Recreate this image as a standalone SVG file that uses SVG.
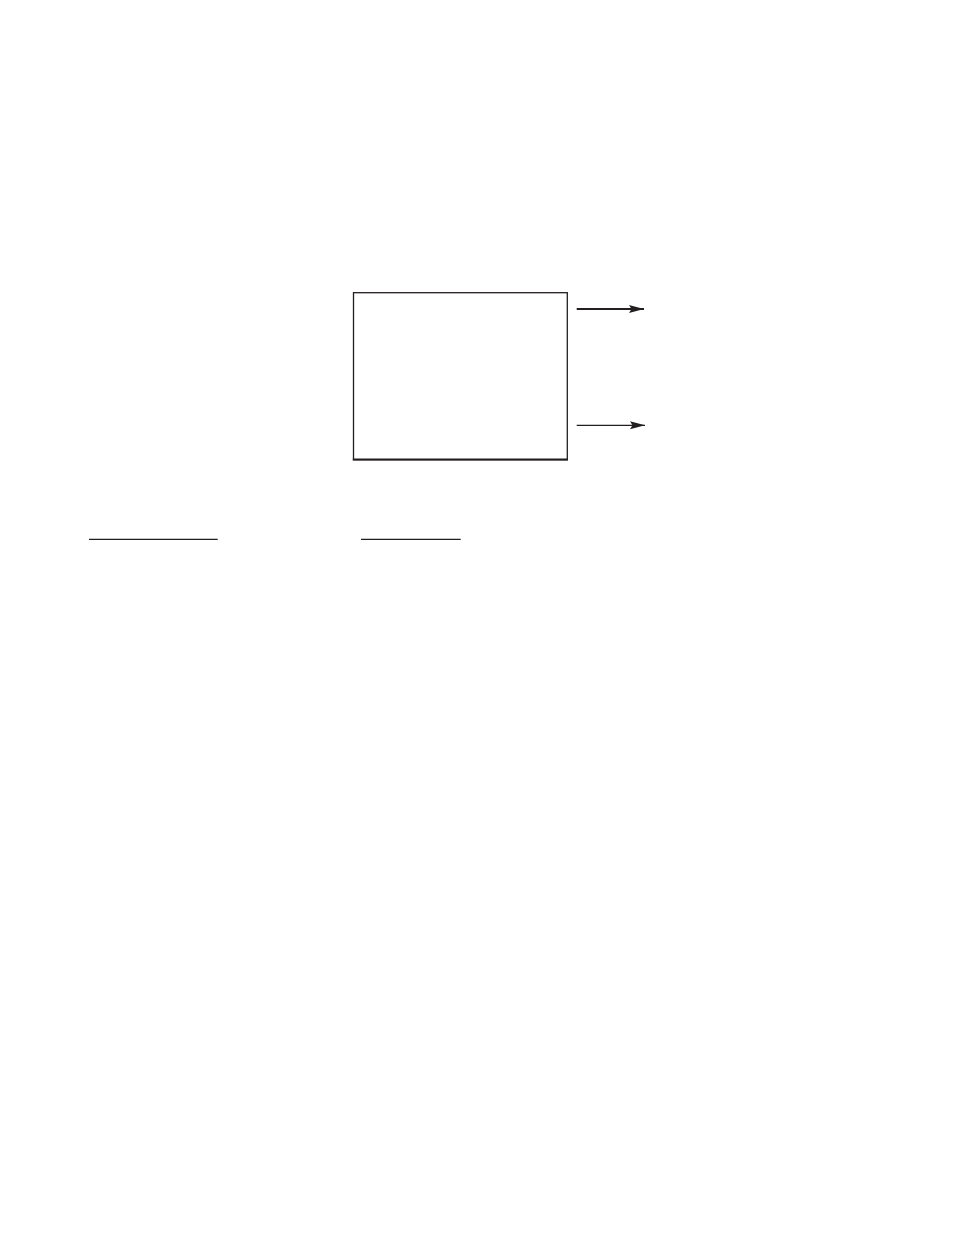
<svg xmlns="http://www.w3.org/2000/svg" width="954" height="1235" viewBox="0 0 954 1235">
<style>
.ln{stroke:#231f20;fill:none}
</style>
<defs>
<marker id="ah" viewBox="0 0 15 9" refX="15" refY="4.5" markerUnits="userSpaceOnUse" markerWidth="15" markerHeight="9" orient="auto">
<path d="M0,0.5 L15,4.5 L0,8.5 L2.5,4.5 Z" fill="#231f20"/>
</marker>
</defs>
<rect width="954" height="1235" fill="#fff"/>
<g id="box">
<rect class="ln" x="353.5" y="292.7" width="213.8" height="167" stroke-width="1.3"/>
<line class="ln" x1="352.8" y1="459.6" x2="568" y2="459.6" stroke-width="2"/>
</g>
<g id="underline1"><line class="ln" x1="89" y1="539.3" x2="217.7" y2="539.3" stroke-width="1.2"/></g>
<g id="underline2"><line class="ln" x1="361" y1="539.3" x2="460.7" y2="539.3" stroke-width="1.2"/></g>
<g id="connectors">
<line class="ln" x1="576.7" y1="309" x2="644" y2="309" stroke-width="2" marker-end="url(#ah)"/>
<line class="ln" x1="576.7" y1="425.3" x2="645" y2="425.3" stroke-width="1.2" marker-end="url(#ah)"/>
</g>
</svg>
